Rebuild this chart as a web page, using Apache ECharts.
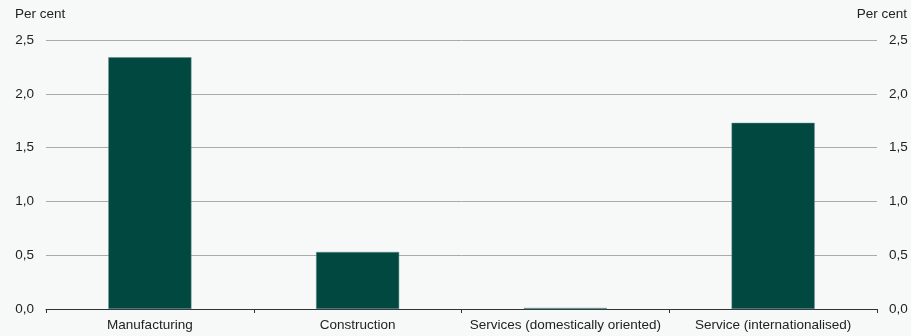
<!DOCTYPE html>
<html><head><meta charset="utf-8">
<script src="https://cdn.jsdelivr.net/npm/echarts@6/dist/echarts.min.js"></script>
<style>html,body{margin:0;padding:0;background:#f7f9f9;}#c{width:911px;height:336px;}</style>
</head><body><div id="c"></div>
<script>
const categories = ["Manufacturing", "Construction", "Services (domestically oriented)", "Service (internationalised)"];
const values = [2.34, 0.53, 0.01, 1.73];
const yTicks = [0, 0.5, 1, 1.5, 2, 2.5];
const unitLabel = "Per cent";

const FONT = 'Liberation Sans, Arial, sans-serif';
const FS = 13.5;
const chart = echarts.init(document.getElementById('c'), null, {renderer: 'canvas'});
const fmt = v => v.toFixed(1).replace('.', ',');
const yAxisBase = {
  type: 'value', min: yTicks[0], max: yTicks[yTicks.length - 1], interval: 0.5,
  axisLine: {show: false}, axisTick: {show: false},
  axisLabel: {formatter: fmt, color: '#222', fontFamily: FONT, fontSize: FS, margin: 12},
};
chart.setOption({
  backgroundColor: '#f7f9f9',
  animation: false,
  grid: {left: 46, right: 34, top: 40, bottom: 27},
  graphic: [
    {type: 'text', left: 15, top: 7, style: {text: unitLabel, fill: '#222', font: FS + 'px ' + FONT}},
    {type: 'text', right: 4, top: 7, style: {text: unitLabel, fill: '#222', font: FS + 'px ' + FONT}}
  ],
  xAxis: {
    type: 'category', data: categories,
    axisLine: {lineStyle: {color: '#333', width: 1}},
    axisTick: {show: true, length: 4, lineStyle: {color: '#333'}},
    axisLabel: {interval: 0, color: '#222', fontFamily: FONT, fontSize: FS, margin: 9}
  },
  yAxis: [
    Object.assign({}, yAxisBase, {position: 'left', splitLine: {show: true, lineStyle: {color: '#aaaaaa', width: 1}}}),
    Object.assign({}, yAxisBase, {position: 'right', splitLine: {show: false}})
  ],
  series: [{
    type: 'bar', data: values, barWidth: '40%', yAxisIndex: 0,
    itemStyle: {color: '#004840', borderColor: '#5f8f88', borderWidth: 0.5}
  }]
});
</script></body></html>
